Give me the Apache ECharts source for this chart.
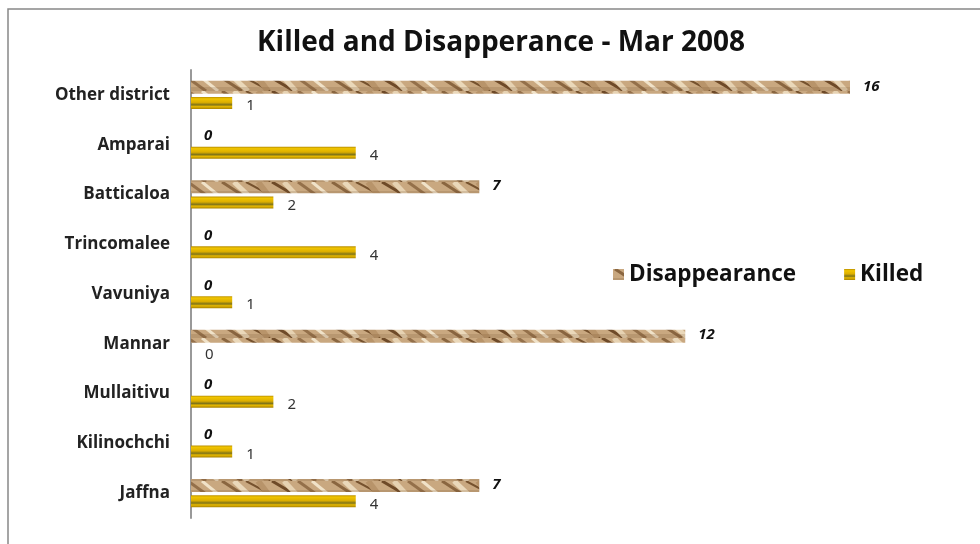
<!DOCTYPE html>
<html><head><meta charset="utf-8">
<script src="https://cdn.jsdelivr.net/npm/echarts@6/dist/echarts.min.js"></script>
<style>html,body{margin:0;padding:0;background:#fff}#c{width:980px;height:544px}</style>
</head><body><div id="c"></div>
<script>
const categories = ['Jaffna','Kilinochchi','Mullaitivu','Mannar','Vavuniya','Trincomalee','Batticaloa','Amparai','Other district'];
const disappearance = [7,0,0,12,0,0,7,0,16];
const killed = [4,1,2,0,1,4,2,4,1];
const titleText = 'Killed and Disapperance - Mar 2008';

// texture for Disappearance bars
const pc = document.createElement('canvas');
pc.width = 110; pc.height = 13;
const g = pc.getContext('2d');
g.fillStyle = '#c9a880'; g.fillRect(0,0,110,13);
const streaks = [[2,'#8a6640',3,20],[14,'#ead8ba',5,14],[26,'#76522e',2,24],[38,'#b8946a',6,10],[52,'#6e4a28',3,22],[64,'#e6d2b2',5,12],[78,'#94704a',3,18],[92,'#f0e2c8',3,16]];
streaks.forEach(s=>{g.strokeStyle=s[1];g.lineWidth=s[2];g.beginPath();g.moveTo(s[0],0);g.lineTo(s[0]+s[3],13);g.stroke();});
g.fillStyle='rgba(120,85,50,0.2)'; g.fillRect(0,9,110,4);

const chart = echarts.init(document.getElementById('c'));
chart.setOption({
  animation:false,
  backgroundColor:'#fff',
  graphic:[{type:'rect',shape:{x:8,y:9,width:1100,height:700},style:{fill:'none',stroke:'#888',lineWidth:1.5},z:-1}],
  title:{text:titleText,left:252,top:24,textStyle:{fontFamily:'Open Sans',fontWeight:'bold',fontSize:28,color:'#111'}},
  legend:{data:['Disappearance','Killed'],left:608,top:258,itemWidth:11,itemHeight:11,itemGap:48,icon:'rect',
    textStyle:{fontFamily:'Open Sans',fontWeight:'bold',fontSize:22.5,color:'#111'}},
  grid:{left:191,right:130,top:70,bottom:26,containLabel:false},
  xAxis:{type:'value',min:0,max:16,show:false},
  yAxis:{type:'category',data:categories,
    axisLine:{show:true,lineStyle:{color:'#999',width:2}},axisTick:{show:false},
    axisLabel:{margin:21,fontFamily:'Open Sans',fontWeight:'bold',fontSize:17,color:'#222'}},
  series:[
    {name:'Disappearance',type:'bar',data:disappearance,barWidth:13,barGap:'25%',
      itemStyle:{color:{image:pc,repeat:'repeat'}},
      label:{show:true,position:'right',distance:13,offset:[0,-1],fontFamily:'Open Sans',fontWeight:'bold',fontStyle:'italic',fontSize:15,color:'#111'}},
    {name:'Killed',type:'bar',data:killed,barWidth:12,
      itemStyle:{color:{type:'linear',x:0,y:0,x2:0,y2:1,colorStops:[
        {offset:0,color:'#b88e00'},{offset:0.15,color:'#f0c400'},{offset:0.45,color:'#dcae00'},
        {offset:0.65,color:'#7f7418'},{offset:0.8,color:'#e6b800'},{offset:1,color:'#a88200'}]},
        borderWidth:0},
      label:{show:true,position:'right',distance:14,offset:[0,3],fontFamily:'Noto Sans',fontSize:15,color:'#333'}}
  ]
});
</script></body></html>
